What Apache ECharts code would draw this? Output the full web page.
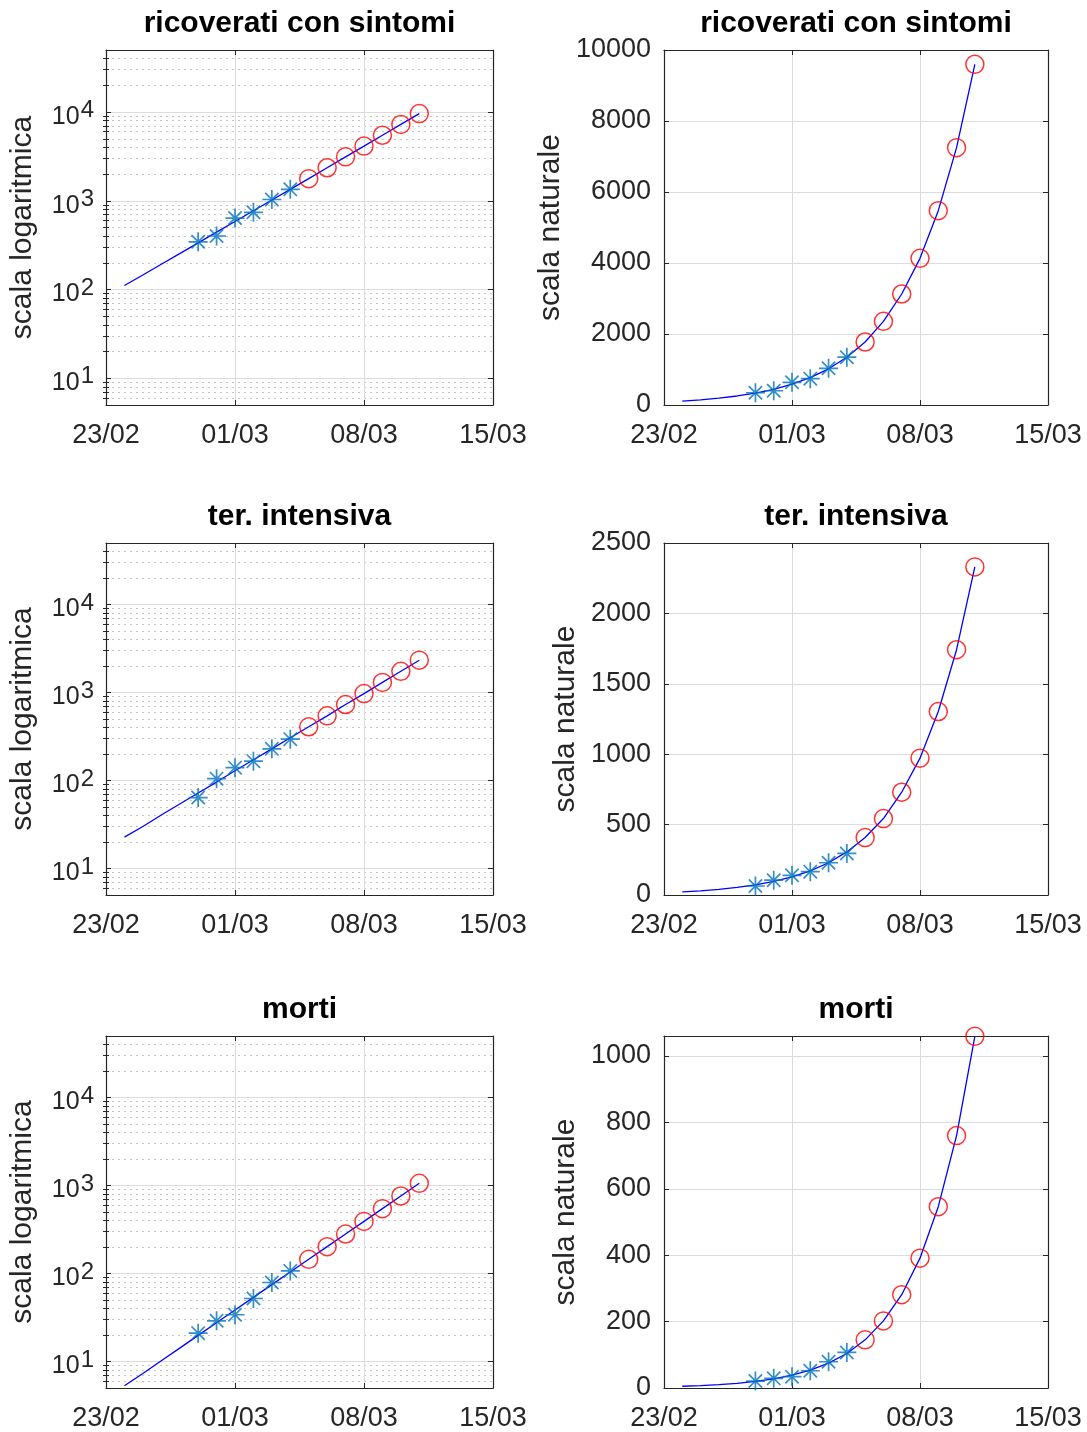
<!DOCTYPE html>
<html><head><meta charset="utf-8">
<script src="https://cdn.jsdelivr.net/npm/echarts@6/dist/echarts.min.js"></script>
<style>html,body{margin:0;padding:0;background:#fff}#c{width:1087px;height:1432px}</style>
</head><body><div id="c"></div>
<script>
// ---- data ----
const fitDates = ['24/02','25/02','26/02','27/02','28/02','29/02','01/03','02/03','03/03','04/03','05/03','06/03','07/03','08/03','09/03','10/03','11/03'];
const obsDates = ['28/02','29/02','01/03','02/03','03/03','04/03'];
const predDates = ['05/03','06/03','07/03','08/03','09/03','10/03','11/03'];
const xTickLabels = ['23/02','01/03','08/03','15/03'];

const ricoveratiObs = [345, 401, 639, 742, 1034, 1346];
const ricoveratiPred = [1775, 2357, 3127, 4131, 5474, 7249, 9596];
const ricoveratiFit = [111, 146, 193, 254, 336, 443, 585, 772, 1019, 1345, 1775, 2357, 3127, 4131, 5474, 7249, 9596];

const intensivaObs = [64, 105, 140, 166, 229, 295];
const intensivaPred = [408, 543, 730, 972, 1303, 1742, 2330];
const intensivaFit = [22.7, 30, 40.5, 54, 72, 96, 129, 172, 229, 306, 408, 543, 730, 972, 1303, 1742, 2330];

const mortiObs = [21, 29, 34, 52, 79, 107];
const mortiPred = [145, 202, 281, 391, 546, 760, 1059];
const mortiFit = [5.3, 7.3, 10.2, 14.2, 19.8, 27.6, 38.5, 53.6, 74.7, 104, 145, 202, 281, 391, 546, 760, 1059];

const titles = ['ricoverati con sintomi', 'ter. intensiva', 'morti'];
const logMinorValues = [6,7,8,9,20,30,40,50,60,70,80,90,200,300,400,500,600,700,800,900,2000,3000,4000,5000,6000,7000,8000,9000,20000,30000,40000];

// ---- helpers ----
const FONT = '"Liberation Sans", Arial, Helvetica, sans-serif';
const AX = '#262626';
const GRID_MAJ = '#dcdcdc';
const GRID_MIN = '#c4c4c4';
function dayIdx(s){ const [d,m] = s.split('/').map(Number); return Math.round((Date.UTC(2020,m-1,d) - Date.UTC(2020,1,23)) / 86400000); }
const pairs = (dates, vals) => dates.map((d,k) => [dayIdx(d), vals[k]]);

const panels = [
  {title:titles[0], log:true,  fit:ricoveratiFit, obs:ricoveratiObs, pred:ricoveratiPred, left:106, top:50,   width:387, height:355, nameGap:68},
  {title:titles[0], log:false, yMax:10000, yInt:2000, fit:ricoveratiFit, obs:ricoveratiObs, pred:ricoveratiPred, left:664, top:50, width:384, height:355, nameGap:98},
  {title:titles[1], log:true,  fit:intensivaFit, obs:intensivaObs, pred:intensivaPred, left:106, top:543,  width:387, height:352, nameGap:68},
  {title:titles[1], log:false, yMax:2500, yInt:500, fit:intensivaFit, obs:intensivaObs, pred:intensivaPred, left:664, top:543, width:384, height:352, nameGap:83},
  {title:titles[2], log:true,  fit:mortiFit, obs:mortiObs, pred:mortiPred, left:106, top:1036, width:387, height:352, nameGap:68},
  {title:titles[2], log:false, yMax:1060, yInt:200, fit:mortiFit, obs:mortiObs, pred:mortiPred, left:664, top:1036, width:384, height:352, nameGap:83}
];

const grid = [], xAxis = [], yAxis = [], series = [], graphic = [];
const axLine = {show:true, onZero:false, lineStyle:{color:AX, width:1.2}};
const axTick = {show:true, inside:true, length:5, lineStyle:{color:AX, width:1}};
const STAR = 'path://M0,-10L0,10M-10,0L10,0M-7,-7L7,7M-7,7L7,-7';

panels.forEach((p, i) => {
  grid.push({left:p.left, top:p.top, width:p.width, height:p.height, containLabel:false});
  graphic.push({type:'text', x:p.left + p.width/2, y:p.top - 26,
    style:{text:p.title, font:'bold 30px ' + FONT, fill:'#000', align:'center', verticalAlign:'middle'}});

  const xi = xAxis.length;
  xAxis.push({type:'value', gridIndex:i, min:0, max:21, interval:7, position:'bottom',
    axisLine:axLine, axisTick:axTick,
    axisLabel:{show:true, margin:17, fontSize:27, fontFamily:FONT, color:AX,
      formatter: v => xTickLabels[Math.round(v/7)] || ''},
    splitLine:{show:true, lineStyle:{color:GRID_MAJ, width:1}}});
  xAxis.push({type:'value', gridIndex:i, min:0, max:21, interval:7, position:'top',
    axisLine:axLine, axisTick:axTick, axisLabel:{show:false}, splitLine:{show:false}});

  const yi = yAxis.length;
  const base = p.log ? {type:'log', logBase:10, min:5, max:50000}
                     : {type:'value', min:0, max:p.yMax, interval:p.yInt};
  const labelCfg = p.log ? {
      show:true, margin:12, padding:[10,0,0,0],
      formatter: v => { const e = Math.log10(v); const r = Math.round(e);
        if (Math.abs(e - r) > 1e-6) return ''; return '{b|10}{s|' + r + '}'; },
      rich:{
        b:{fontSize:25, fontFamily:FONT, color:AX, lineHeight:25, verticalAlign:'bottom'},
        s:{fontSize:24, fontFamily:FONT, color:AX, lineHeight:24, verticalAlign:'bottom', padding:[0,0,7,1]}
      }
    } : {
      show:true, margin:13, fontSize:27, fontFamily:FONT, color:AX, padding:[4,0,0,0],
      formatter: v => (v % p.yInt === 0 ? String(v) : '')
    };
  yAxis.push(Object.assign({}, base, {gridIndex:i, position:'left',
    name: p.log ? 'scala logaritmica' : 'scala naturale', nameLocation:'middle', nameGap:p.nameGap, nameRotate:90,
    nameTextStyle:{fontSize:30, fontFamily:FONT, color:AX},
    axisLine:axLine, axisTick:axTick, axisLabel:labelCfg,
    splitLine:{show:true, lineStyle:{color:GRID_MAJ, width:1}}}));
  yAxis.push(Object.assign({}, base, {gridIndex:i, position:'right',
    axisLine:axLine, axisTick:axTick, axisLabel:{show:false}, splitLine:{show:false}}));
  if (p.log) {
    yAxis.push(Object.assign({}, base, {gridIndex:i, position:'left',
      axisLine:{show:false}, axisTick:{show:true, inside:true, length:3, customValues:logMinorValues, lineStyle:{color:AX, width:1}},
      axisLabel:{show:false}, splitLine:{show:true, lineStyle:{color:GRID_MIN, width:1, type:[2,4]}}}));
    yAxis.push(Object.assign({}, base, {gridIndex:i, position:'right',
      axisLine:{show:false}, axisTick:{show:true, inside:true, length:3, customValues:logMinorValues, lineStyle:{color:AX, width:1}},
      axisLabel:{show:false}, splitLine:{show:false}}));
  }

  series.push({type:'line', xAxisIndex:xi, yAxisIndex:yi, data:pairs(fitDates, p.fit),
    symbol:'none', lineStyle:{color:'#0000ff', width:1.3}, z:3, silent:true});
  series.push({type:'scatter', xAxisIndex:xi, yAxisIndex:yi, data:pairs(obsDates, p.obs),
    symbol:STAR, symbolSize:19, itemStyle:{color:'#0072BD', borderColor:'#0072BD', borderWidth:1.7}, z:4, silent:true});
  series.push({type:'scatter', xAxisIndex:xi, yAxisIndex:yi, data:pairs(predDates, p.pred),
    symbol:'circle', symbolSize:18, itemStyle:{color:'rgba(0,0,0,0)', borderColor:'#ff0000', borderWidth:1.5}, z:5, silent:true});
});

const chart = echarts.init(document.getElementById('c'), null, {renderer:'canvas'});
chart.setOption({animation:false, backgroundColor:'#fff', grid, xAxis, yAxis, series, graphic});
</script>
</body></html>
